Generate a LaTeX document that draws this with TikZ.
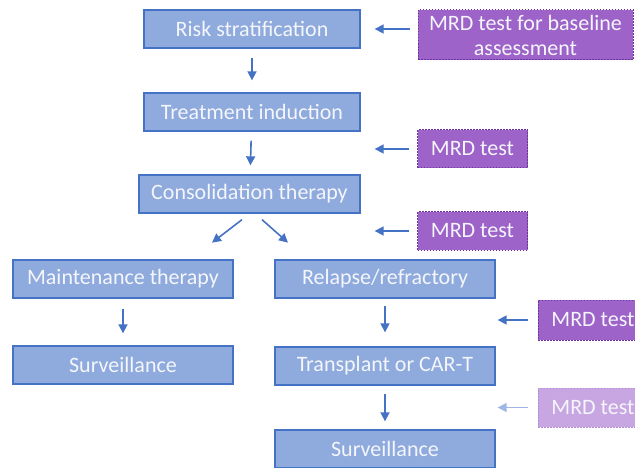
\documentclass[tikz,border=0pt]{standalone}
\usepackage{fontspec}
\setmainfont{Carlito}
\usetikzlibrary{arrows.meta}
\definecolor{boxfill}{HTML}{8FAADC}
\definecolor{boxline}{HTML}{4472C4}
\definecolor{mrdfill}{HTML}{9E63C8}
\definecolor{mrdline}{HTML}{7030A0}
\definecolor{mrdlightfill}{HTML}{C8A6E2}
\definecolor{mrdlightline}{HTML}{B38CD6}
\definecolor{arrowblue}{HTML}{4472C4}
\definecolor{arrowlight}{HTML}{9FB7E4}
\definecolor{labeltext}{HTML}{F4F6FB}
\tikzset{
  stagebox/.style={draw=boxline, fill=boxfill, line width=1.3pt, text=labeltext,
    minimum width=220pt, minimum height=38pt, inner sep=0pt,
    font=\fontsize{22}{25}\selectfont},
  mrdbox/.style={draw=mrdline, fill=mrdfill, line width=1pt, dash pattern=on 1.5pt off 1.5pt,
    text=labeltext, minimum width=110pt, minimum height=38pt, inner sep=0pt,
    font=\fontsize{22}{25}\selectfont, align=center},
  mrdlight/.style={mrdbox, draw=mrdlightline, fill=mrdlightfill},
  flow/.style={draw=arrowblue, line width=1.6pt, -{Triangle[length=9pt,width=9pt]}},
  flowlight/.style={flow, draw=arrowlight},
}
\begin{document}
\begin{tikzpicture}[x=1pt,y=-1pt]
\useasboundingbox (0,0) rectangle (635,468);
\clip (0,0) rectangle (635,468);
% main stages
\node[stagebox, minimum width=216pt] (risk) at (252,29) {Risk stratification};
\node[stagebox, minimum width=216pt] (treat) at (252,112) {Treatment induction};
\node[stagebox, minimum width=221pt] (cons) at (249.5,194) {Consolidation therapy};
\node[stagebox] (maint) at (123,279) {Maintenance therapy};
\node[stagebox] (relapse) at (385,279) {Relapse/refractory};
\node[stagebox] (surva) at (123,365) {Surveillance};
\node[stagebox] (transp) at (385,366) {Transplant or CAR-T};
\node[stagebox] (survb) at (385,449) {Surveillance};
% MRD test points
\node[mrdbox, minimum width=215pt, minimum height=50pt] (mrdbase) at (525.5,35) {MRD test for baseline\\assessment};
\node[mrdbox] (mrdind) at (472.5,149) {MRD test};
\node[mrdbox] (mrdcons) at (472.5,231) {MRD test};
\node[mrdbox, minimum height=40pt] (mrdrel) at (593,320) {MRD test};
\node[mrdlight, minimum height=39pt] (mrdtx) at (593,407.5) {MRD test};
% flow down the stages
\draw[flow, shorten <=9pt, shorten >=12pt] (risk) -- (treat);
\draw[flow, shorten <=9pt, shorten >=9pt] (treat) -- (cons);
\draw[flow] (cons.south) ++(-7.5,6) -- ++(-30,23);
\draw[flow] (cons.south) ++(12.5,6) -- ++(26,23);
\draw[flow, shorten <=10pt, shorten >=12pt] (maint) -- (surva);
\draw[flow, shorten <=7pt, shorten >=14pt] (relapse) -- (transp);
\draw[flow, shorten <=8pt, shorten >=8pt] (transp) -- (survb);
% MRD arrows into the stages
\draw[flow, shorten <=8pt, shorten >=14pt] (mrdbase.west |- risk) -- (risk.east);
\draw[flow, shorten <=8pt, shorten >=14pt] (mrdind.west) -- (mrdind.west -| treat.east);
\draw[flow, shorten <=8pt, shorten >=14pt] (mrdcons.west) -- (mrdcons.west -| cons.east);
\draw[flow, shorten <=10pt, shorten >=2pt] (mrdrel.west) -- (mrdrel.west -| relapse.east);
\draw[flowlight, shorten <=10pt, shorten >=2pt] (mrdtx.west) -- (mrdtx.west -| transp.east);
\end{tikzpicture}
\end{document}
